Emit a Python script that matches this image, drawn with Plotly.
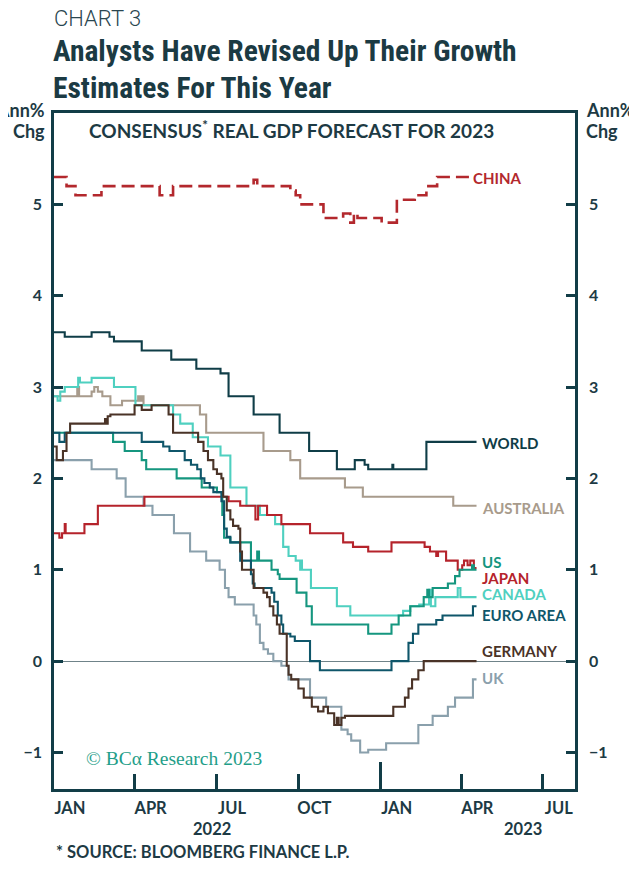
import plotly.graph_objects as go

# ---------------- data ----------------
china_dates = ["2022-01-01", "2022-01-15", "2022-01-25", "2022-02-23", "2022-04-29", "2022-05-14",
               "2022-08-12", "2022-08-16", "2022-09-22", "2022-09-28", "2022-10-03", "2022-10-29",
               "2022-11-20", "2022-11-28", "2022-12-02", "2022-12-06", "2023-01-02", "2023-01-19",
               "2023-02-08", "2023-02-21", "2023-03-05", "2023-04-10"]
china_vals = [5.3, 5.2, 5.1, 5.2, 5.1, 5.2, 5.27, 5.2, 5.15, 5.1, 5.0, 4.85,
              4.9, 4.8, 4.9, 4.85, 4.8, 5.05, 5.1, 5.2, 5.3, 5.3]

world_dates = ["2022-01-01", "2022-01-13", "2022-02-12", "2022-03-04", "2022-03-09", "2022-04-09",
               "2022-05-12", "2022-06-09", "2022-07-06", "2022-07-15", "2022-08-12", "2022-09-10",
               "2022-10-13", "2022-11-13", "2022-12-03", "2022-12-14", "2022-12-18", "2023-01-14",
               "2023-01-15", "2023-02-21", "2023-04-18"]
world_vals = [3.6, 3.55, 3.6, 3.55, 3.5, 3.4, 3.3, 3.2, 3.15, 2.9, 2.7, 2.5,
              2.3, 2.1, 2.2, 2.15, 2.1, 2.15, 2.1, 2.4, 2.4]

australia_dates = ["2022-01-01", "2022-01-27", "2022-01-29", "2022-02-12", "2022-02-15", "2022-02-19",
                   "2022-02-24", "2022-03-05", "2022-03-18", "2022-04-05", "2022-04-07", "2022-04-09",
                   "2022-04-11", "2022-06-13", "2022-06-20", "2022-08-23", "2022-09-22", "2022-10-03",
                   "2022-11-22", "2022-12-12", "2023-03-23", "2023-04-18"]
australia_vals = [2.9, 3.0, 2.9, 2.95, 3.0, 2.95, 2.9, 2.8, 2.85, 2.9, 2.85, 2.9,
                  2.8, 2.7, 2.5, 2.3, 2.2, 2.0, 1.9, 1.8, 1.7, 1.7]

canada_dates = ["2022-01-01", "2022-01-05", "2022-01-08", "2022-01-13", "2022-01-28", "2022-01-30",
                "2022-02-12", "2022-03-09", "2022-04-02", "2022-05-14", "2022-05-22", "2022-06-05",
                "2022-06-22", "2022-07-06", "2022-07-17", "2022-08-04", "2022-08-19", "2022-09-05",
                "2022-09-14", "2022-09-20", "2022-09-28", "2022-10-03", "2022-10-04", "2022-10-05",
                "2022-10-15", "2022-11-13", "2022-11-28", "2023-01-26", "2023-02-03", "2023-02-13",
                "2023-02-24", "2023-02-26", "2023-03-03", "2023-03-28", "2023-03-31", "2023-04-18"]
canada_vals = [2.9, 2.85, 2.95, 3.0, 3.1, 3.05, 3.1, 3.0, 2.8, 2.7, 2.6, 2.45,
               2.35, 2.25, 1.9, 1.7, 1.6, 1.5, 1.25, 1.15, 1.1, 1.0, 1.1, 1.0,
               0.8, 0.6, 0.5, 0.55, 0.6, 0.62, 0.78, 0.6, 0.7, 0.8, 0.7, 0.7]

us_dates = ["2022-01-01", "2022-03-08", "2022-03-21", "2022-04-09", "2022-04-14", "2022-05-18",
            "2022-06-15", "2022-07-02", "2022-07-08", "2022-07-10", "2022-07-17", "2022-08-09",
            "2022-08-16", "2022-08-18", "2022-09-01", "2022-09-08", "2022-09-10", "2022-09-29",
            "2022-10-10", "2022-10-16", "2022-12-18", "2023-01-13", "2023-01-21", "2023-02-03",
            "2023-02-18", "2023-02-22", "2023-02-24", "2023-02-28", "2023-03-17", "2023-03-25",
            "2023-03-30", "2023-04-13", "2023-04-15", "2023-04-18"]
us_vals = [2.5, 2.4, 2.3, 2.2, 2.1, 2.0, 1.9, 1.85, 1.6, 1.35, 1.3, 1.1,
           1.2, 1.1, 1.0, 0.95, 0.9, 0.75, 0.6, 0.4, 0.3, 0.4, 0.5, 0.6,
           0.7, 0.78, 0.7, 0.8, 0.85, 0.93, 1.0, 1.05, 1.0, 1.0]

japan_dates = ["2022-01-01", "2022-01-07", "2022-01-10", "2022-01-13", "2022-01-14", "2022-02-04",
               "2022-02-19", "2022-04-12", "2022-07-15", "2022-07-28", "2022-08-14", "2022-08-17",
               "2022-08-27", "2022-09-12", "2022-10-14", "2022-11-20", "2022-12-01", "2022-12-18",
               "2023-01-13", "2023-02-19", "2023-02-25", "2023-03-04", "2023-03-06", "2023-03-15",
               "2023-03-28", "2023-04-02", "2023-04-04", "2023-04-08", "2023-04-11", "2023-04-15",
               "2023-04-18"]
japan_vals = [1.4, 1.35, 1.4, 1.5, 1.4, 1.5, 1.7, 1.8, 1.75, 1.7, 1.55, 1.7,
              1.6, 1.5, 1.4, 1.3, 1.25, 1.2, 1.3, 1.25, 1.2, 1.15, 1.2, 1.1,
              1.0, 1.05, 1.1, 1.05, 1.1, 1.02, 1.02]

euro_dates = ["2022-01-01", "2022-01-07", "2022-01-13", "2022-04-09", "2022-05-03", "2022-05-10",
              "2022-05-27", "2022-06-03", "2022-06-10", "2022-06-14", "2022-06-18", "2022-06-24",
              "2022-06-28", "2022-07-07", "2022-07-10", "2022-07-13", "2022-07-17", "2022-07-28",
              "2022-08-09", "2022-08-11", "2022-08-13", "2022-09-01", "2022-09-04", "2022-09-08",
              "2022-09-12", "2022-09-14", "2022-09-22", "2022-09-27", "2022-10-14", "2022-10-25",
              "2023-01-13", "2023-02-01", "2023-02-06", "2023-02-12", "2023-03-04", "2023-03-11",
              "2023-04-14", "2023-04-18"]
euro_vals = [2.5, 2.4, 2.5, 2.4, 2.35, 2.3, 2.2, 2.15, 2.1, 2.0, 1.95, 1.9,
             1.85, 1.75, 1.45, 1.36, 1.3, 1.1, 0.95, 0.85, 0.8, 0.75, 0.65, 0.5,
             0.4, 0.3, 0.27, 0.22, 0.0, -0.1, 0.0, 0.2, 0.3, 0.4, 0.45, 0.5,
             0.6, 0.6]

germany_dates = ["2022-01-01", "2022-01-04", "2022-01-11", "2022-01-15", "2022-01-19", "2022-02-27",
                 "2022-02-28", "2022-03-02", "2022-03-05", "2022-04-01", "2022-04-09", "2022-04-20",
                 "2022-05-09", "2022-05-14", "2022-06-11", "2022-06-17", "2022-06-22", "2022-06-28",
                 "2022-07-02", "2022-07-07", "2022-07-09", "2022-07-13", "2022-07-17", "2022-07-20",
                 "2022-07-26", "2022-07-28", "2022-07-30", "2022-08-12", "2022-08-23", "2022-08-27",
                 "2022-08-30", "2022-09-03", "2022-09-07", "2022-09-10", "2022-09-18", "2022-09-20",
                 "2022-09-23", "2022-10-01", "2022-10-07", "2022-10-16", "2022-10-23", "2022-10-29",
                 "2022-11-03", "2022-11-10", "2022-11-13", "2022-11-15", "2022-11-18", "2022-11-22",
                 "2023-01-15", "2023-01-28", "2023-02-01", "2023-02-05", "2023-02-12", "2023-02-18",
                 "2023-04-18"]
germany_vals = [2.35, 2.2, 2.3, 2.5, 2.6, 2.65, 2.6, 2.68, 2.7, 2.8, 2.75, 2.8,
                2.7, 2.5, 2.4, 2.3, 2.2, 2.1, 2.05, 2.0, 1.8, 1.65, 1.55, 1.48,
                1.45, 1.2, 1.0, 0.8, 0.75, 0.7, 0.6, 0.5, 0.4, 0.3, -0.05, -0.15,
                -0.2, -0.3, -0.4, -0.5, -0.55, -0.5, -0.57, -0.7, -0.62, -0.7, -0.62, -0.6,
                -0.5, -0.4, -0.3, -0.2, -0.1, 0.0, 0.0]

uk_dates = ["2022-01-01", "2022-02-12", "2022-03-12", "2022-03-22", "2022-04-11", "2022-04-21",
            "2022-05-15", "2022-06-02", "2022-06-20", "2022-07-05", "2022-07-11", "2022-07-15",
            "2022-07-22", "2022-08-12", "2022-08-15", "2022-08-19", "2022-08-23", "2022-08-28",
            "2022-09-03", "2022-09-12", "2022-09-20", "2022-10-14", "2022-11-01", "2022-11-18",
            "2022-11-25", "2022-11-29", "2022-12-09", "2022-12-18", "2023-01-07", "2023-02-12",
            "2023-02-28", "2023-03-17", "2023-03-25", "2023-04-14", "2023-04-18"]
uk_vals = [2.2, 2.1, 2.0, 1.8, 1.7, 1.6, 1.4, 1.2, 1.1, 1.0, 0.8, 0.7,
           0.62, 0.5, 0.4, 0.2, 0.13, 0.08, 0.0, -0.05, -0.2, -0.4, -0.5, -0.75,
           -0.8, -0.87, -1.0, -0.97, -0.9, -0.7, -0.6, -0.5, -0.4, -0.2, -0.2]

x_tick_dates = ["2022-01-01", "2022-04-01", "2022-07-01", "2022-10-01",
                "2023-01-01", "2023-04-01", "2023-07-01"]
x_tick_text = ["JAN", "APR", "JUL", "OCT", "JAN", "APR", "JUL"]
year_ticks = ["2023-01-01"]
y_ticks = [-1, 0, 1, 2, 3, 4, 5]

series_names = ["CHINA", "WORLD", "AUSTRALIA", "US", "JAPAN", "CANADA", "EURO AREA", "GERMANY", "UK"]
series_dates = [china_dates, world_dates, australia_dates, us_dates, japan_dates,
                canada_dates, euro_dates, germany_dates, uk_dates]
series_vals = [china_vals, world_vals, australia_vals, us_vals, japan_vals,
               canada_vals, euro_vals, germany_vals, uk_vals]

# ---------------- styles / positions ----------------
colors = {"CHINA": "#b3282d", "WORLD": "#0f3d47", "AUSTRALIA": "#a89b8c", "US": "#15967f",
          "JAPAN": "#b5232b", "CANADA": "#4fd0c0", "EURO AREA": "#0f566a",
          "GERMANY": "#4a3327", "UK": "#8aa0ac"}
label_y = {"CHINA": 5.29, "WORLD": 2.39, "AUSTRALIA": 1.68, "US": 1.08, "JAPAN": 0.91,
           "CANADA": 0.73, "EURO AREA": 0.50, "GERMANY": 0.11, "UK": -0.19}
label_shift = {"CHINA": 2}
draw_order = ["AUSTRALIA", "WORLD", "UK", "CANADA", "JAPAN", "US", "EURO AREA", "GERMANY", "CHINA"]

AX = "#123d47"
TXT = "#1d3a44"
OFF = 8                      # page body margin of the html page
W, H = 637 - OFF, 872 - OFF  # figure size so that it fits the window
L, R, T, B = 54 - OFF, 62, 113 - OFF, 83
PW, PH = W - L - R, H - T - B
LABEL_FONT = "Lato, 'Open Sans', sans-serif"


def px(x):   # page pixel -> paper x
    return (x - OFF - L) / PW


def py(y):   # page pixel -> paper y
    return (OFF + H - B - y) / PH


fig = go.Figure()
for name in draw_order:
    i = series_names.index(name)
    fig.add_trace(go.Scatter(
        x=series_dates[i], y=series_vals[i], mode="lines", line_shape="hv", name=name,
        line=dict(color=colors[name], width=2.6 if name == "CHINA" else 2.1,
                  dash="13px,6px" if name == "CHINA" else "solid"),
        showlegend=False, hoverinfo="skip"))

# carrier for the secondary axes (long JAN tick, right-hand labels)
fig.add_trace(go.Scatter(x=[None], y=[None], xaxis="x2", yaxis="y2", showlegend=False,
                         hoverinfo="skip"))

annotations = []
for i, name in enumerate(series_names):
    annotations.append(dict(
        x=series_dates[i][-1], y=label_y[name], xref="x", yref="y", text=name,
        showarrow=False, xanchor="left", yanchor="middle", xshift=label_shift.get(name, 3),
        font=dict(family=LABEL_FONT, size=15, color=colors[name], weight="bold")))


def txt(text, x, y, size, xanchor="left", color=TXT, family=LABEL_FONT, weight="bold"):
    annotations.append(dict(text=text, x=px(x), y=py(y), xref="paper", yref="paper",
                            showarrow=False, xanchor=xanchor, yanchor="middle",
                            font=dict(family=family, size=size, color=color, weight=weight)))


txt("CHART 3", 52, 18, 22, family="Roboto, sans-serif", weight=300, color="#2a4650")
TITLE_FONT = "'Roboto Condensed', 'Liberation Sans Narrow', 'DejaVu Sans Condensed', sans-serif"
txt("Analysts Have Revised Up Their Growth", 51, 51, 29.5, family=TITLE_FONT, color="#1b3a43")
txt("Estimates For This Year", 51, 88, 29.5, family=TITLE_FONT, color="#1b3a43")
txt("Ann%", 47, 110, 18, xanchor="right")
txt("Chg", 47, 131, 18, xanchor="right")
txt("Ann%", 584, 110, 18)
txt("Chg", 584, 131, 18)
txt("CONSENSUS<sup>*</sup> REAL GDP FORECAST FOR 2023", 87, 130, 19)
txt("© BCα Research 2023", 84, 758, 19.5, color="#1f9e89",
    family="'Liberation Serif', 'DejaVu Serif', serif", weight="normal")
txt("2022", 212, 829, 16.5, xanchor="center")
txt("2023", 523, 829, 16.5, xanchor="center")
txt("* SOURCE: BLOOMBERG FINANCE L.P.", 54, 852, 16.5)

x_range = ["2022-01-01", "2023-08-06"]
y_range = [-1.4, 6.0]

fig.update_layout(
    width=W, height=H, margin=dict(l=L, r=R, t=T, b=B, pad=0),
    paper_bgcolor="white", plot_bgcolor="white",
    font=dict(family=LABEL_FONT, color=TXT),
    annotations=annotations,
    xaxis=dict(type="date", range=x_range, tickmode="array", tickvals=x_tick_dates,
               ticktext=x_tick_text, ticks="inside", ticklen=15, tickwidth=2.5, tickcolor=AX,
               showline=True, linecolor=AX, linewidth=2.6, mirror=True, showgrid=False,
               zeroline=False, ticklabelshift=16, ticklabelstandoff=2,
               tickfont=dict(family=LABEL_FONT, size=16.5, color=TXT, weight="bold")),
    xaxis2=dict(type="date", range=x_range, overlaying="x", anchor="y", side="bottom",
                tickmode="array", tickvals=year_ticks, ticks="inside", ticklen=27, tickwidth=2.5,
                tickcolor=AX, showticklabels=False, showline=False, showgrid=False, zeroline=False),
    yaxis=dict(range=y_range, tickmode="array", tickvals=y_ticks, ticks="inside", ticklen=9,
               tickwidth=2.5, tickcolor=AX, showline=True, linecolor=AX, linewidth=2.6,
               showgrid=False, zeroline=True, zerolinecolor="#6f8389", zerolinewidth=1.2,
               ticklabelstandoff=6,
               tickfont=dict(family=LABEL_FONT, size=16, color=TXT, weight="bold")),
    yaxis2=dict(range=y_range, overlaying="y", side="right", anchor="x", tickmode="array",
                tickvals=y_ticks, ticks="inside", ticklen=9, tickwidth=2.5, tickcolor=AX,
                showline=True, linecolor=AX, linewidth=2.6, showgrid=False, zeroline=False,
                ticklabelstandoff=8,
                tickfont=dict(family=LABEL_FONT, size=16, color=TXT, weight="bold")),
)

fig.write_html("out.html")
